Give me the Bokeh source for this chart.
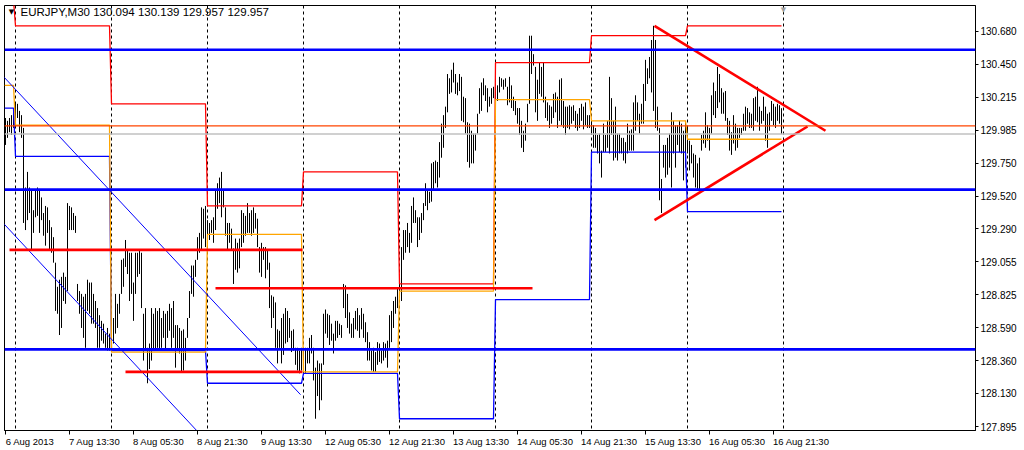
from bokeh.plotting import figure
from bokeh.models import Range1d, FixedTicker, PrintfTickFormatter, Label, Span, ColumnDataSource
from bokeh.embed import file_html
from bokeh.resources import INLINE

symbol = "EURJPY,M30"
last_ohlc = [130.094, 130.139, 129.957, 129.957]

# M30 bar highs and lows, one list per trading day
high_aug06 = [130.07, 130.05, 130.07, 130.09, 130.12]
low_aug06 = [129.88, 129.93, 129.97, 129.95, 130.00]

high_aug07 = [130.18, 130.17, 130.12, 130.09, 130.00, 129.58, 129.69, 129.58, 129.56, 129.42, 129.56, 129.58,
              129.57, 129.51, 129.40, 129.45, 129.44, 129.35, 129.30, 129.23, 129.05, 128.88, 128.93, 128.95,
              128.98, 128.95, 129.47, 129.45, 129.44, 129.40, 129.38, 128.90, 128.85, 128.83, 128.81, 128.83,
              128.93, 128.91, 128.91, 128.83, 128.78, 128.73, 128.68, 128.64, 128.62, 128.55, 128.59, 128.55]
low_aug07 = [130.00, 130.07, 129.97, 129.93, 129.33, 129.28, 129.35, 129.40, 129.14, 129.26, 129.37, 129.38,
             129.26, 129.35, 129.24, 129.17, 129.26, 129.14, 129.12, 129.05, 128.71, 128.69, 128.54, 128.59,
             128.78, 128.76, 128.85, 129.28, 129.28, 129.28, 129.26, 128.78, 128.69, 128.59, 128.52, 128.45,
             128.71, 128.69, 128.62, 128.62, 128.59, 128.45, 128.45, 128.50, 128.48, 128.45, 128.43, 128.43]

high_aug08 = [128.55, 128.66, 128.83, 128.76, 128.83, 129.07, 129.08, 129.21, 129.14, 129.12, 129.12, 128.91,
              129.12, 129.12, 129.14, 129.12, 128.69, 128.73, 128.45, 128.48, 128.73, 128.69, 128.73, 128.71,
              128.73, 128.66, 128.71, 128.69, 128.71, 128.76, 128.73, 128.78, 128.61, 128.61, 128.59, 128.57,
              128.58, 128.52, 128.66, 128.85, 129.03, 129.03, 129.07, 129.23, 129.26, 129.44, 129.43, 129.45]
low_aug08 = [128.43, 128.48, 128.55, 128.59, 128.69, 128.83, 128.88, 129.02, 128.97, 128.78, 128.83, 128.64,
             128.83, 128.95, 128.97, 128.73, 128.36, 128.43, 128.20, 128.30, 128.36, 128.43, 128.43, 128.45,
             128.43, 128.45, 128.52, 128.43, 128.52, 128.57, 128.45, 128.52, 128.31, 128.43, 128.41, 128.28,
             128.29, 128.36, 128.52, 128.66, 128.83, 128.81, 128.95, 129.07, 129.12, 129.14, 129.22, 129.16]

high_aug09 = [129.35, 129.33, 129.35, 129.37, 129.56, 129.61, 129.65, 129.69, 129.56, 129.44, 129.33, 129.33,
              129.29, 129.15, 129.22, 129.19, 129.22, 129.42, 129.40, 129.38, 129.47, 129.40, 129.42, 129.44,
              129.40, 129.36, 129.16, 129.19, 129.16, 129.16, 129.14, 129.05, 128.82, 128.81, 128.77, 128.58,
              128.57, 128.66, 128.69, 128.73, 128.71, 128.66, 128.57, 128.58, 128.45, 128.45, 128.43, 128.45]
low_aug09 = [129.19, 129.21, 129.26, 129.19, 129.28, 129.43, 129.47, 129.37, 129.44, 129.24, 129.14, 129.19,
             129.14, 128.90, 129.00, 128.98, 129.01, 129.16, 129.19, 129.24, 129.26, 129.26, 129.24, 129.26,
             129.29, 129.16, 128.98, 128.95, 129.07, 128.94, 129.00, 128.73, 128.59, 128.66, 128.45, 128.34,
             128.45, 128.34, 128.40, 128.48, 128.49, 128.52, 128.42, 128.43, 128.33, 128.29, 128.27, 128.29]

high_aug12 = [128.43, 128.45, 128.45, 128.52, 128.54, 128.45, 128.31, 128.36, 128.34, 128.34, 128.69, 128.72,
              128.69, 128.68, 128.62, 128.55, 128.64, 128.64, 128.62, 128.61, 128.90, 128.89, 128.83, 128.70,
              128.62, 128.66, 128.71, 128.73, 128.68, 128.73, 128.69, 128.63, 128.56, 128.49, 128.43, 128.45,
              128.42, 128.49, 128.48, 128.43, 128.49, 128.48, 128.50, 128.68, 128.71, 128.78, 128.81, 128.87]
low_aug12 = [128.28, 128.27, 128.34, 128.34, 128.41, 128.22, 127.95, 128.11, 128.01, 128.08, 128.33, 128.55,
             128.52, 128.47, 128.50, 128.41, 128.50, 128.52, 128.54, 128.52, 128.73, 128.66, 128.59, 128.55,
             128.52, 128.52, 128.58, 128.57, 128.52, 128.58, 128.52, 128.49, 128.36, 128.36, 128.29, 128.28,
             128.28, 128.33, 128.35, 128.34, 128.36, 128.38, 128.31, 128.45, 128.49, 128.59, 128.69, 128.73]

high_aug13 = [128.91, 129.16, 129.28, 129.28, 129.33, 129.26, 129.45, 129.51, 129.42, 129.37, 129.37, 129.40,
              129.47, 129.61, 129.56, 129.55, 129.75, 129.76, 129.77, 129.76, 129.90, 130.03, 130.09, 130.15,
              130.38, 130.35, 130.41, 130.46, 130.38, 130.32, 130.38, 130.36, 130.22, 130.21, 130.04, 130.03,
              129.98, 129.96, 129.96, 130.10, 130.28, 130.32, 130.35, 130.30, 130.28, 130.22, 130.28, 130.29]
low_aug13 = [128.81, 128.78, 129.07, 129.12, 129.16, 129.12, 129.19, 129.33, 129.33, 129.16, 129.21, 129.26,
             129.35, 129.45, 129.42, 129.47, 129.48, 129.57, 129.61, 129.58, 129.65, 129.79, 129.86, 130.00,
             130.11, 130.24, 130.25, 130.32, 130.24, 130.23, 130.26, 130.05, 130.04, 129.96, 129.76, 129.72,
             129.75, 129.75, 129.84, 129.96, 130.10, 130.12, 130.23, 130.19, 130.11, 130.15, 130.17, 130.21]

high_aug14 = [130.29, 130.30, 130.36, 130.35, 130.34, 130.35, 130.29, 130.36, 130.30, 130.22, 130.19, 130.14,
              130.14, 130.05, 129.98, 130.03, 130.17, 130.65, 130.65, 130.52, 130.43, 130.34, 130.46, 130.43,
              130.46, 130.22, 130.18, 130.16, 130.15, 130.24, 130.25, 130.22, 130.34, 130.35, 130.19, 130.15,
              130.15, 130.16, 130.15, 130.16, 130.12, 130.10, 130.14, 130.17, 130.15, 130.18, 130.09, 130.09]
low_aug14 = [130.18, 130.19, 130.25, 130.29, 130.27, 130.29, 130.16, 130.18, 130.14, 130.12, 130.09, 130.03,
             129.95, 129.86, 129.83, 129.91, 130.04, 130.17, 130.38, 130.44, 130.11, 130.05, 130.24, 130.22,
             130.18, 130.07, 130.05, 130.00, 130.03, 130.07, 130.11, 130.00, 130.05, 130.02, 130.00, 129.95,
             130.00, 129.99, 130.03, 130.05, 130.00, 129.98, 130.00, 130.05, 129.99, 130.02, 130.00, 130.00]

high_aug15 = [130.05, 130.02, 130.00, 129.95, 129.96, 129.84, 130.03, 129.95, 130.05, 130.36, 130.21, 130.05,
              130.15, 129.96, 129.96, 129.93, 129.93, 129.90, 130.03, 129.98, 129.99, 130.18, 130.23, 130.18,
              130.10, 130.17, 130.31, 130.48, 130.42, 130.50, 130.62, 130.72, 130.62, 130.15, 130.00, 129.64,
              129.88, 129.88, 129.93, 129.96, 130.11, 130.05, 130.02, 130.02, 130.05, 130.03, 129.98, 130.05]
low_aug15 = [129.95, 129.86, 129.86, 129.82, 129.75, 129.65, 129.83, 129.83, 129.86, 129.82, 129.95, 129.77,
             129.79, 129.77, 129.82, 129.82, 129.77, 129.75, 129.82, 129.84, 129.84, 129.84, 129.98, 130.05,
             129.96, 130.03, 130.03, 130.19, 130.31, 130.35, 130.25, 130.12, 130.00, 129.98, 129.49, 129.40,
             129.72, 129.65, 129.67, 129.72, 129.58, 129.82, 129.72, 129.88, 129.83, 129.82, 129.63, 129.72]

high_aug16 = [130.00, 129.91, 129.88, 129.82, 129.81, 129.75, 129.79, 129.95, 129.98, 130.11, 130.02, 130.00,
              130.23, 130.32, 130.26, 130.43, 130.38, 130.28, 130.25, 130.26, 130.07, 130.05, 129.97, 130.09,
              130.03, 130.00, 130.00, 130.00, 130.10, 130.15, 130.14, 130.11, 130.10, 130.21, 130.22, 130.29,
              130.15, 130.12, 130.22, 130.15, 130.10, 130.11, 130.19, 130.17, 130.15, 130.17, 130.16, 130.139]
low_aug16 = [129.82, 129.70, 129.75, 129.65, 129.58, 129.56, 129.56, 129.84, 129.89, 129.86, 129.91, 129.84,
             129.96, 130.09, 130.07, 130.14, 130.18, 130.10, 130.10, 130.05, 129.95, 129.84, 129.81, 129.89,
             129.84, 129.86, 129.93, 129.95, 129.98, 129.98, 130.03, 130.00, 130.00, 129.98, 130.05, 130.04,
             129.98, 130.03, 130.05, 129.91, 129.86, 129.98, 130.05, 130.02, 130.00, 130.05, 130.03, 129.957]

bar_high = (high_aug06 + high_aug07 + high_aug08 + high_aug09 + high_aug12 +
            high_aug13 + high_aug14 + high_aug15 + high_aug16)
bar_low = (low_aug06 + low_aug07 + low_aug08 + low_aug09 + low_aug12 +
           low_aug13 + low_aug14 + low_aug15 + low_aug16)
bar_index = list(range(len(bar_high)))

# first / last bar of each day and the previous day's high, low and close
day_first_bar = [0, 5, 53, 101, 149, 197, 245, 293, 341]
day_last_bar = [4, 52, 100, 148, 196, 244, 292, 340, 388]
prev_day_high = [130.90, 130.72, 130.17, 129.45, 129.69, 128.90, 130.46, 130.65, 130.72]
prev_day_low = [130.14, 129.80, 128.43, 128.20, 128.27, 127.95, 128.79, 129.83, 129.41]
prev_day_close = [130.30, 130.02, 128.42, 129.25, 128.28, 128.85, 130.20, 130.05, 129.92]
separator_bars = [5, 53, 101, 149, 197, 245, 293, 341, 389]

# horizontal levels
blue_levels = [130.551, 129.565, 128.439]
pivot_level = 130.015
bid_level = last_ohlc[3]

# drawn objects: (bar from, bar to, price from, price to)
red_segments = [(2, 148.5, 129.14, 129.14), (60, 148.5, 128.28, 128.28), (105, 263.5, 128.87, 128.87),
                (324.5, 410, 130.72, 129.98), (324.5, 401, 129.35, 130.01)]
channel_lines = [(-1, 147.5, 130.362, 128.12), (-1, 100, 129.327, 127.80)]

time_tick_bars = [0, 32, 64, 96, 128, 160, 192, 224, 256, 288, 320, 352, 384]
time_tick_labels = ["6 Aug 2013", "7 Aug 13:30", "8 Aug 05:30", "8 Aug 21:30", "9 Aug 13:30",
                    "12 Aug 05:30", "12 Aug 21:30", "13 Aug 13:30", "14 Aug 05:30", "14 Aug 21:30",
                    "15 Aug 13:30", "16 Aug 05:30", "16 Aug 21:30"]
price_ticks = [130.680, 130.450, 130.215, 129.985, 129.750, 129.520, 129.290, 129.055,
               128.825, 128.590, 128.360, 128.130, 127.895]

FONT = "Liberation Sans"
Y_LO, Y_HI = 127.867, 130.863

# approximate advance widths (em) so a centred axis label can start at its tick
CHAR_EM = {" ": 0.278, ":": 0.278, "A": 0.667}
NBSP_EM = 0.278


def left_anchored(text):
    width = sum(CHAR_EM.get(c, 0.556) for c in text)
    return "\u00a0" * round(width / NBSP_EM) + text


time_label_text = {b: left_anchored(s) for b, s in zip(time_tick_bars, time_tick_labels)}
# the first label is pushed against the canvas edge; a short lead keeps it off the frame corner
time_label_text[time_tick_bars[0]] = "\u00a0\u00a0" + time_tick_labels[0]

p = figure(width=1024, height=450, output_backend="svg", toolbar_location=None,
           x_range=Range1d(-0.5, 485.0), y_range=Range1d(Y_LO, Y_HI),
           y_axis_location="right", min_border_left=4, min_border_right=49,
           min_border_top=5, min_border_bottom=20)
p.grid.visible = False
p.outline_line_color = "black"
p.outline_line_alpha = 1.0
p.background_fill_color = "white"
p.border_fill_color = "white"

yax = p.yaxis[0]
yax.ticker = FixedTicker(ticks=price_ticks)
yax.formatter = PrintfTickFormatter(format="%.3f")
yax.major_tick_out = 3
yax.major_tick_in = 0
yax.minor_tick_out = 0
yax.minor_tick_in = 0
yax.major_label_standoff = 2
yax.major_label_text_font = FONT
yax.major_label_text_font_size = "10px"
yax.major_label_text_color = "black"
yax.axis_line_color = "black"

xax = p.xaxis[0]
xax.ticker = FixedTicker(ticks=time_tick_bars)
xax.major_label_overrides = time_label_text
xax.major_tick_out = 4
xax.major_tick_in = 0
xax.minor_tick_out = 0
xax.minor_tick_in = 0
xax.major_label_standoff = 1
xax.major_label_text_font = FONT
xax.major_label_text_font_size = "9.5px"
xax.major_label_text_color = "black"
xax.axis_line_color = "black"

# day separators
for b in separator_bars:
    p.add_layout(Span(location=b, dimension="height", line_color="black",
                      line_width=1, line_dash="3 3", level="underlay"))

# price bars
bars = ColumnDataSource(dict(x=bar_index, hi=bar_high, lo=bar_low))
p.segment(x0="x", y0="lo", x1="x", y1="hi", source=bars, line_color="black", line_width=1)


def day_steps(levels):
    xs, ys = [], []
    for first, last, v in zip(day_first_bar, day_last_bar, levels):
        xs += [first, last]
        ys += [v, v]
    xs[0] = -0.5
    return xs, ys


for levels, color in [(prev_day_high, "#FF0000"), (prev_day_low, "#0000FF"), (prev_day_close, "#FFA500")]:
    xs, ys = day_steps(levels)
    p.line(xs, ys, line_color=color, line_width=1.3)

# horizontal levels
p.add_layout(Span(location=bid_level, dimension="width", line_color="#C0C0C0", line_width=1.3))
p.add_layout(Span(location=pivot_level, dimension="width", line_color="#FF4500", line_width=1.3))
for lv in blue_levels:
    p.add_layout(Span(location=lv, dimension="width", line_color="#0000FF", line_width=2.6))

# trend channel
for x0, x1, y0, y1 in channel_lines:
    p.line([x0, x1], [y0, y1], line_color="#0000FF", line_width=1)

# red support lines and triangle
for x0, x1, y0, y1 in red_segments:
    p.line([x0, x1], [y0, y1], line_color="#FF0000", line_width=2.6)

# price boxes on the scale
for lv, bg in [(blue_levels[0], "#0000FF"), (pivot_level, "#FF4500"), (bid_level, "#000000"),
               (blue_levels[1], "#0000FF"), (blue_levels[2], "#0000FF")]:
    p.add_layout(Label(x=487.3, y=lv, text=f"{lv:.3f}", text_color="white",
                       text_font=FONT, text_font_size="10px", text_baseline="middle",
                       text_align="left", background_fill_color=bg,
                       padding=dict(left=3, right=5, top=0, bottom=0)))

# header
header = f"{symbol}  " + " ".join(f"{v:.3f}" for v in last_ohlc)
p.add_layout(Label(x=7.5, y=130.815, text=header, text_color="black", text_font=FONT,
                   text_font_size="11.5px", text_baseline="middle", text_align="left"))
p.add_layout(Label(x=3.0, y=130.815, text="\u25BC", text_color="black", text_font="DejaVu Sans",
                   text_font_size="7px", text_baseline="middle", text_align="center"))
p.add_layout(Label(x=389.0, y=Y_HI, text="\u25BC", text_color="#A0A0A0", text_font="DejaVu Sans",
                   text_font_size="7px", text_baseline="top", text_align="center"))

open("out.html", "w").write(file_html(p, INLINE))
